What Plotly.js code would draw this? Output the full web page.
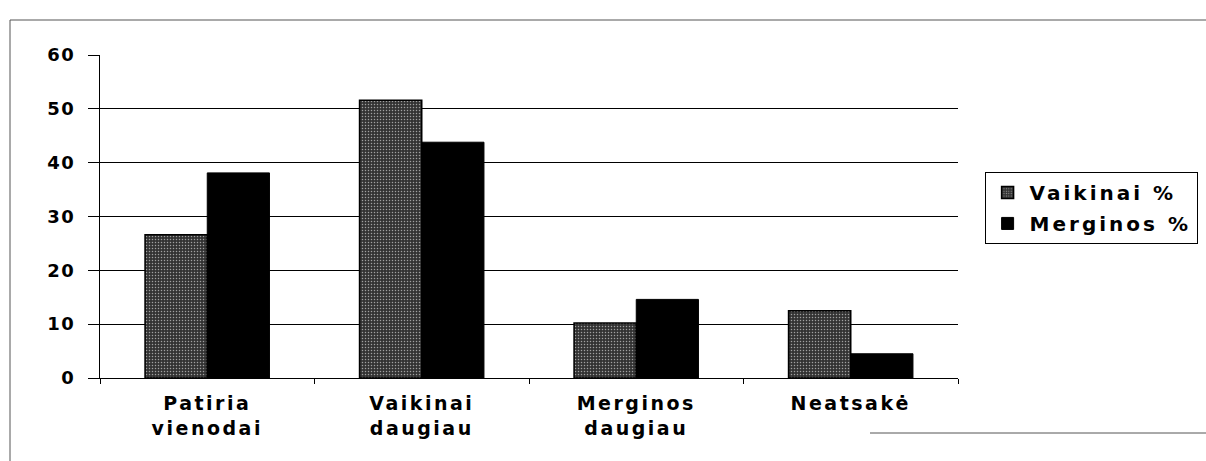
<!DOCTYPE html>
<html>
<head>
<meta charset="utf-8">
<script src="https://cdn.plot.ly/plotly-3.0.1.min.js"></script>
<style>
html,body{margin:0;padding:0;background:#fff;}
#chart{width:1206px;height:461px;}
.xtick text{letter-spacing:2.5px;}
.ytick text{letter-spacing:1.5px;}
text.legendtext{letter-spacing:3px;}
</style>
</head>
<body>
<div id="chart"></div>
<script>
const categories = ["Patiria<br>vienodai", "Vaikinai<br>daugiau", "Merginos<br>daugiau", "Neatsakė"];
const seriesNames = ["Vaikinai %", "Merginos %"];
const vaikinai = [26.6, 51.6, 10.2, 12.5];
const merginos = [38.1, 43.8, 14.6, 4.5];
const yTicks = [0, 10, 20, 30, 40, 50, 60];

const font = "DejaVu Sans, Verdana, sans-serif";

const traces = [
  {
    type: "bar", name: seriesNames[0], x: categories, y: vaikinai, legendgroup: "a",
    marker: {
      color: "#444",
      line: {color: "#000", width: 1.5},
      pattern: {shape: ".", fgcolor: "#a0a0a0", bgcolor: "#333333", size: 3, solidity: 0.2, fillmode: "replace"}
    }
  },
  {
    type: "bar", name: seriesNames[1], x: categories, y: merginos, legendgroup: "b",
    marker: {color: "#000", line: {color: "#000", width: 1}}
  }
];

const layout = {
  width: 1206, height: 461,
  margin: {l: 100, r: 248, t: 55, b: 83, autoexpand: false},
  paper_bgcolor: "#fff", plot_bgcolor: "#fff",
  barmode: "group", bargap: 0.42, bargroupgap: 0,
  font: {family: font, color: "#000", size: 19, weight: "bold"},
  showlegend: true,
  legend: {
    x: 1.031, y: 0.638, xanchor: "left", yanchor: "top",
    bordercolor: "#000", borderwidth: 1, bgcolor: "#fff",
    font: {family: font, size: 20, color: "#000", weight: "bold"},
    traceorder: "grouped", tracegroupgap: 2, itemwidth: 34
  },
  xaxis: {
    type: "category", showgrid: false, zeroline: false,
    showline: true, linecolor: "#000", linewidth: 1,
    ticks: "outside", tickson: "boundaries", ticklen: 5, tickcolor: "#000",
    ticklabelstandoff: 8,
    tickfont: {family: font, size: 19, color: "#000", weight: "bold"}
  },
  yaxis: {
    range: [0, 60], tickvals: yTicks, ticktext: yTicks.map(String),
    showgrid: true, gridcolor: "#000", gridwidth: 1,
    zeroline: false, showline: true, linecolor: "#000", linewidth: 1,
    ticks: "outside", ticklen: 11, tickcolor: "#000",
    ticklabelstandoff: 9,
    tickfont: {family: font, size: 18, color: "#000", weight: "bold"}
  },
  shapes: [
    {type: "line", xref: "paper", yref: "paper", x0: -90/858, x1: -90/858, y0: 358/323, y1: -83/323, line: {color: "#555", width: 1}},
    {type: "line", xref: "paper", yref: "paper", x0: -90/858, x1: 1106/858, y0: 358/323, y1: 358/323, line: {color: "#555", width: 1}},
    {type: "line", xref: "paper", yref: "paper", x0: 770/858, x1: 1106/858, y0: -55/323, y1: -55/323, line: {color: "#555", width: 1}}
  ]
};

Plotly.newPlot("chart", traces, layout, {displayModeBar: false, staticPlot: true});
</script>
</body>
</html>
